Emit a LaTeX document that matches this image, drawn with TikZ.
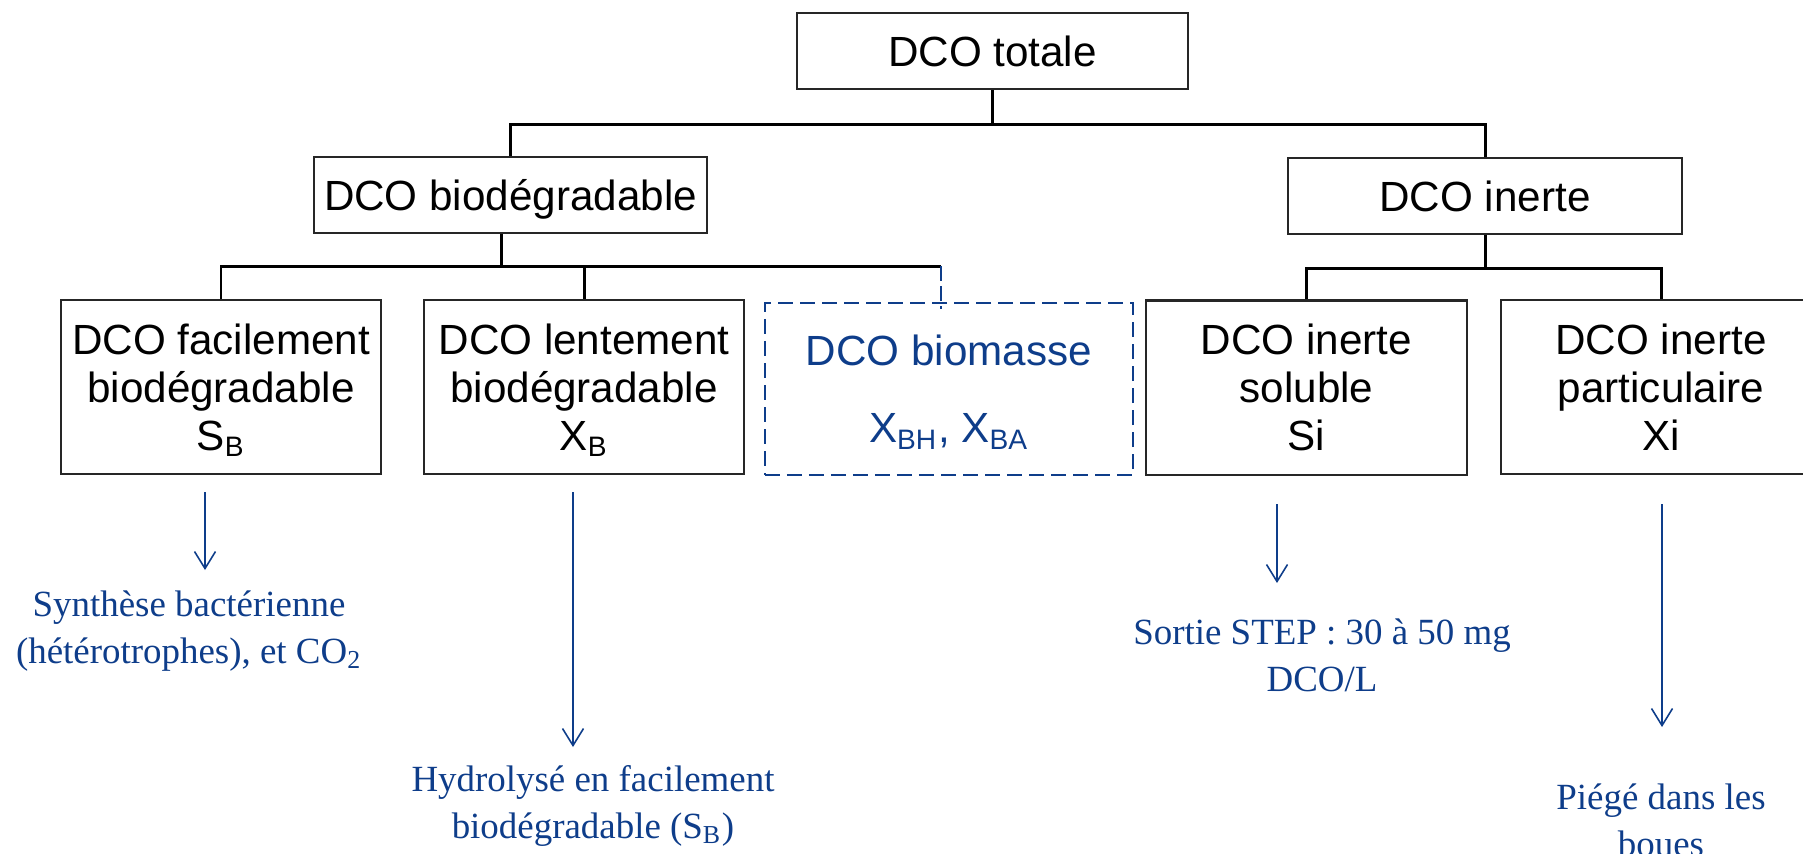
\documentclass[tikz,border=0pt]{standalone}
\usepackage{fontspec}
\setmainfont{Liberation Sans}
\newfontfamily\notefont{Liberation Serif}
\usepackage{tikz}
\usetikzlibrary{arrows.meta}
\definecolor{dcoblue}{RGB}{14,61,138}

\begin{document}
\begin{tikzpicture}[x=0.01cm,y=-0.01cm,
        box/.style={draw=black!85,line width=0.6pt,align=center,inner sep=0pt,text depth=0pt,
            font=\fontsize{12}{13.7}\selectfont},
        bigbox/.style={box,minimum width=3.2cm,minimum height=1.74cm},
        link/.style={line width=0.85pt},
        dlink/.style={dcoblue,line width=0.45pt,dash pattern=on 0.15cm off 0.05cm},
        note/.style={text=dcoblue,align=center,anchor=base,
            font=\notefont\fontsize{10.5}{13.1}\selectfont},
        arr/.style={dcoblue,line width=0.45pt,-{Straight Barb[length=0.17cm,width=0.21cm]}}]
    \useasboundingbox (0,0) rectangle (1803,853);
    \node[box,minimum width=3.91cm,minimum height=0.76cm] (tot) at (992.5,51) {DCO totale};
    \node[box,minimum width=3.93cm,minimum height=0.76cm] (bio) at (510.5,195) {DCO biodégradable};
    \node[box,minimum width=3.94cm,minimum height=0.76cm] (ine) at (1485,196) {DCO inerte};
    \node[bigbox] (fac) at (221,387) {DCO facilement\\biodégradable\\S\textsubscript{B}};
    \node[bigbox] (len) at (584,387) {DCO lentement\\biodégradable\\X\textsubscript{B}};
    \node[box,draw=dcoblue,text=dcoblue,line width=0.45pt,dash pattern=on 0.15cm off 0.07cm,
        minimum width=3.68cm,minimum height=1.72cm] (bm) at (949,389)
        {DCO biomasse\\[0.29cm]X\textsubscript{BH}, X\textsubscript{BA}};
    \node[bigbox] (sol) at (1306.5,387.5) {DCO inerte\\soluble\\Si};
    \node[bigbox] (par) at (1661,387) {DCO inerte\\particulaire\\Xi};

    \draw[link] (tot.south) -- ++(0,34) coordinate (j1);
    \draw[link] (bio.north) |- (j1) -| (ine.north);
    \draw[link] ([xshift=-0.09cm]bio.south) -- ++(0,33) coordinate (j2);
    \coordinate (j2e) at (941,266);
    \draw[link] (fac.north) |- (j2e);
    \draw[link] (len.north) -- (len.north |- j2e);
    \draw[dlink] (j2e) -- ([yshift=-0.07cm]j2e |- bm.north);
    \draw[link] (ine.south) -- ++(0,33) coordinate (j3);
    \draw[link] (sol.north) |- (j3) -| (par.north);

    \foreach \i/\x/\ya/\yb in {1/205/492/570,2/573/492/747,3/1277/504/583,4/1662/504/727}{
        \coordinate (s\i) at (\x,\ya);
        \coordinate (e\i) at (\x,\yb);
        \draw[arr] (s\i) -- (e\i);
    }
    \node[note] (n1) at (189,663) {Synthèse bactérienne\\(hétérotrophes), et CO\textsubscript{2}};
    \node[note] (n2) at (593,838) {Hydrolysé en facilement\\biodégradable (S\textsubscript{B})};
    \node[note] (n3) at (1322,691) {Sortie STEP : 30 à 50 mg\\DCO/L};
    \node[note] (n4) at (1661,856) {Piégé dans les\\boues};
\end{tikzpicture}
\end{document}
